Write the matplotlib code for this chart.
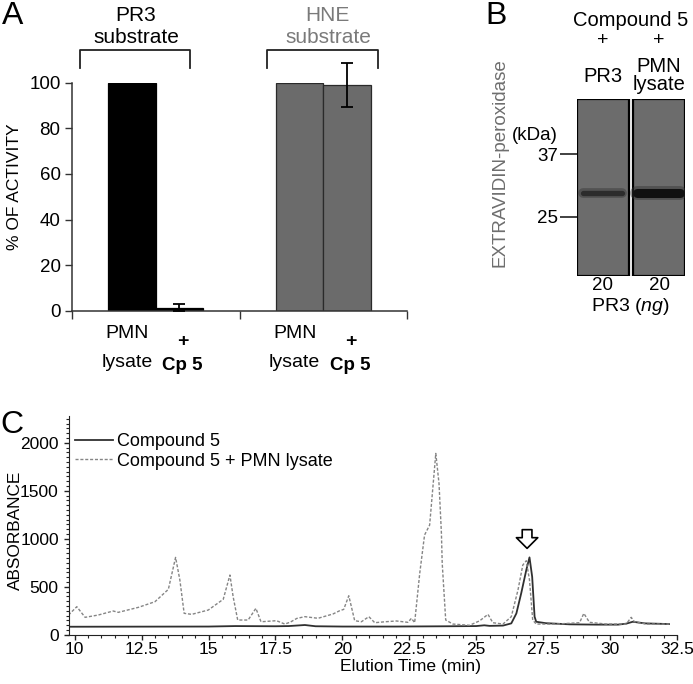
import numpy as np
import matplotlib
matplotlib.use('Agg')
import matplotlib.pyplot as plt
from matplotlib.ticker import MultipleLocator, FuncFormatter, NullLocator

plt.rcParams['font.family'] = ['Liberation Sans', 'DejaVu Sans']
plt.rcParams['mathtext.fontset'] = 'custom'
plt.rcParams['mathtext.rm'] = 'Liberation Sans'
plt.rcParams['mathtext.it'] = 'Liberation Sans:italic'

W, H = 693, 684

# ---------- datos: panel A (% de actividad) ----------
pr3_activity = [100, 1.3]
pr3_err = [0, 1.5]
hne_activity = [100, 99]
hne_err = [0, 9.5]
cond_top = ['PMN', '+']
cond_bottom = ['lysate', 'Cp 5']

# ---------- datos: panel B (blot) ----------
lanes_top = ['PR3', 'PMN\nlysate']
pr3_ng = [20, 20]
band_kda = [29, 29]
marker_kda = [37, 25]

# ---------- datos: panel C (HPLC) ----------
t_lysate = [9.77, 10.08, 10.39, 10.88, 11.44, 11.63, 12.38, 13.0, 13.5, 13.77,
            13.93, 14.09, 14.37, 14.99, 15.55, 15.80, 15.92, 16.09, 16.48, 16.77,
            16.96, 17.54, 17.85, 18.05, 18.3, 18.6, 19.09, 19.65, 19.9, 20.05,
            20.24, 20.46, 20.71, 20.99, 21.21, 21.6, 22.02, 22.45, 22.58, 22.7,
            22.89, 23.07, 23.26, 23.49, 23.61, 23.70, 23.73, 23.86, 24.13, 24.75,
            25.13, 25.44, 25.62, 26.0, 26.31, 26.56, 26.74, 26.87, 26.99, 27.11,
            27.24, 27.99, 28.86, 29.02, 29.23, 29.85, 30.6, 30.79, 30.91, 31.35,
            32.2]
abs_lysate = [205, 292, 181, 205, 247, 233, 285, 344, 473, 806,
              570, 223, 212, 257, 369, 622, 396, 153, 153, 275,
              135, 146, 111, 130, 170, 188, 171, 216, 250, 264,
              406, 146, 135, 188, 125, 135, 143, 129, 171, 125,
              640, 1039, 1143, 1890, 1577, 1056, 744, 153, 111, 98,
              145, 212, 125, 111, 188, 466, 726, 771, 570, 153,
              111, 111, 125, 222, 129, 111, 111, 181, 135, 111,
              111]
t_cp5 = [9.77, 15.0, 16.0, 17.5, 18.0, 18.6, 19.0, 20.0, 22.0, 24.0,
         25.0, 25.3, 25.5, 26.0, 26.31, 26.50, 26.68, 26.87, 26.99, 27.09,
         27.18, 27.24, 27.6, 28.5, 29.5, 30.3, 30.6, 30.85, 31.3, 32.2]
abs_cp5 = [83, 85, 90, 88, 90, 101, 88, 85, 85, 88,
           90, 98, 92, 95, 118, 222, 431, 674, 806, 604,
           188, 135, 120, 108, 105, 105, 115, 135, 118, 111]
cp5_peak_t = 26.9

fig = plt.figure(figsize=(W/100, H/100), dpi=100)


def px_axes(l, t, r, b):
    return fig.add_axes([l/W, 1 - b/H, (r - l)/W, (b - t)/H])


def ftext(x, y, s, **kw):
    kw.setdefault('ha', 'center')
    kw.setdefault('va', 'center')
    fig.text(x/W, 1 - y/H, s, **kw)


# ================= Panel A =================
axA = px_axes(71.7, 82.7, 407.3, 310.7)
bw = 0.283
groups = [(pr3_activity, pr3_err, 'black', 'black'),
          (hne_activity, hne_err, '#6b6b6b', '#2a2a2a')]
for g, (vals, errs, fc, ec) in enumerate(groups):
    xs = [g + 0.5 - bw/2, g + 0.5 + bw/2]
    axA.bar(xs, vals, width=bw, color=fc, edgecolor=ec, linewidth=0.9, zorder=2)
    for x, v, e in zip(xs, vals, errs):
        if e > 0:
            axA.errorbar(x, v, yerr=e, color='black', capsize=4, lw=1.3,
                         capthick=1.3, clip_on=False, zorder=3)
    for k, (x, top, bot) in enumerate(zip(xs, cond_top, cond_bottom)):
        bold = k == 1
        fw = 'bold' if bold else 'normal'
        dx = -0.03 if not bold else 0.02
        axA.annotate(top, (x + dx, H - (346 if bold else 338.3)),
                     xycoords=('data', 'figure pixels'), ha='center',
                     va='baseline', fontsize=14, fontweight=fw)
        axA.annotate(bot, (x + dx, H - (370.5 if bold else 366.7)),
                     xycoords=('data', 'figure pixels'), ha='center',
                     va='baseline', fontsize=13.5 if bold else 14, fontweight=fw)

# corchetes de sustrato
brackets = [(0.05, 0.705), (1.164, 1.825)]
titles = [('PR3\nsubstrate', 'black', 0.383), ('HNE\nsubstrate', '#7a7a7a', 1.527)]
for (b0, b1), (txt, col, tx) in zip(brackets, titles):
    axA.plot([b0, b0, b1, b1], [106.6, 114.3, 114.3, 106.6], color='#222222',
             lw=1.3, clip_on=False)
    axA.text(tx, 124.6, txt, ha='center', va='center', fontsize=15,
             color=col, linespacing=1.15)

axA.set_xlim(0, 2)
axA.set_ylim(0, 100)
axA.set_yticks(np.arange(0, 101, 20))
axA.set_xticks([0, 1, 2])
axA.set_xticklabels([])
axA.tick_params(axis='y', length=5, width=1, labelsize=13.5, color='#333333', pad=3)
axA.tick_params(axis='x', length=6, width=1, color='#333333')
for s in ['top', 'right']:
    axA.spines[s].set_visible(False)
for s in ['left', 'bottom']:
    axA.spines[s].set_color('#333333')
    axA.spines[s].set_linewidth(1.1)
ftext(15, 187, '% OF ACTIVITY', rotation=90, fontsize=12.5)
ftext(12.5, 15.5, 'A', fontsize=23)

# ================= Panel B =================
axB = px_axes(576.7, 99, 685, 276)
axB.set_yscale('log')
ylo, yhi = 17.3, 52.2
axB.set_ylim(ylo, yhi)
axB.set_xlim(0, 2.0)
lane_w = 0.96
for i in range(len(lanes_top)):
    x0 = i * 1.04
    axB.bar(x0, yhi - ylo, bottom=ylo, width=lane_w, align='edge',
            color='#6c6c6c', edgecolor='black', linewidth=1.6, zorder=1)
    strong = i == 1
    bx = [x0 + 0.12, x0 + 0.84] if not strong else [x0 + 0.08, x0 + 0.86]
    axB.plot(bx, [band_kda[i]] * 2, color='#333333', lw=10 if strong else 7,
             alpha=0.45, solid_capstyle='round', zorder=2)
    axB.plot(bx, [band_kda[i]] * 2, color='#111111' if strong else '#2c2c2c',
             lw=6.5 if strong else 3.8, solid_capstyle='round', zorder=3)
    xc = x0 + lane_w / 2
    axB.annotate('+', (xc, H - 40.7), xycoords=('data', 'figure pixels'),
                 ha='center', va='center', fontsize=14)
    axB.annotate(lanes_top[i], (xc, H - (76 if i == 0 else 75.5)),
                 xycoords=('data', 'figure pixels'), ha='center', va='center',
                 fontsize=14.5, linespacing=1.0)
    axB.annotate(str(pr3_ng[i]), (xc, H - 285), xycoords=('data', 'figure pixels'),
                 ha='center', va='center', fontsize=13.5)
axB.set_yticks(marker_kda)
axB.set_yticklabels([str(m) for m in marker_kda])
axB.yaxis.set_minor_locator(NullLocator())
axB.tick_params(axis='y', length=12, width=1.3, pad=1.5, labelsize=13.5,
                color='#333333')
axB.set_xticks([])
for s in axB.spines.values():
    s.set_visible(False)
ftext(630.5, 20, 'Compound 5', fontsize=14.5)
ftext(630.5, 306, r'PR3 $\mathit{(ng)}$', fontsize=14)
ftext(535, 136, '(kDa)', fontsize=13.5)
ftext(500, 163, 'EXTRAVIDIN-peroxidase', rotation=90, fontsize=13.5, color='#6e6e6e')
ftext(496.5, 15.5, 'B', fontsize=23)

# ================= Panel C =================
axC = px_axes(68.5, 416, 677, 634.7)
axC.plot(t_cp5, abs_cp5, color='#303030', lw=1.3, label='Compound 5')
axC.plot(t_lysate, abs_lysate, color='#858585', lw=1.0, ls=(0, (2.2, 1.3)),
         label='Compound 5 + PMN lysate')
axC.annotate('', xy=(cp5_peak_t, 900), xytext=(cp5_peak_t, 1095),
             arrowprops=dict(arrowstyle='simple,head_length=0.55,head_width=1.1,tail_width=0.5',
                             fc='white', ec='black', lw=1.2, shrinkA=0, shrinkB=0,
                             mutation_scale=14))
axC.set_xlim(9.77, 32.5)
axC.set_ylim(0, 2280)
axC.xaxis.set_major_locator(MultipleLocator(2.5))
axC.xaxis.set_minor_locator(MultipleLocator(0.5))
axC.yaxis.set_major_locator(MultipleLocator(500))
axC.yaxis.set_minor_locator(MultipleLocator(50))
axC.xaxis.set_major_formatter(FuncFormatter(lambda v, p: '%g' % v))
axC.tick_params(which='major', length=3.5, width=1, labelsize=12.5, color='#222222')
axC.tick_params(which='minor', length=2, width=0.8, color='#222222')
axC.tick_params(axis='x', pad=2)
for s in ['top', 'right']:
    axC.spines[s].set_visible(False)
for s in ['left', 'bottom']:
    axC.spines[s].set_color('#222222')
axC.legend(loc='upper left', bbox_to_anchor=(0.0107, 0.92), frameon=False,
           fontsize=13, handlelength=2.1, handletextpad=0.2, labelspacing=0.12,
           borderaxespad=0, borderpad=0)
ftext(411, 666, 'Elution Time (min)', fontsize=12.6)
ftext(15.5, 530, 'ABSORBANCE', rotation=90, fontsize=12.4)
ftext(12, 425, 'C', fontsize=23)

fig.savefig('out.png', dpi=100)
